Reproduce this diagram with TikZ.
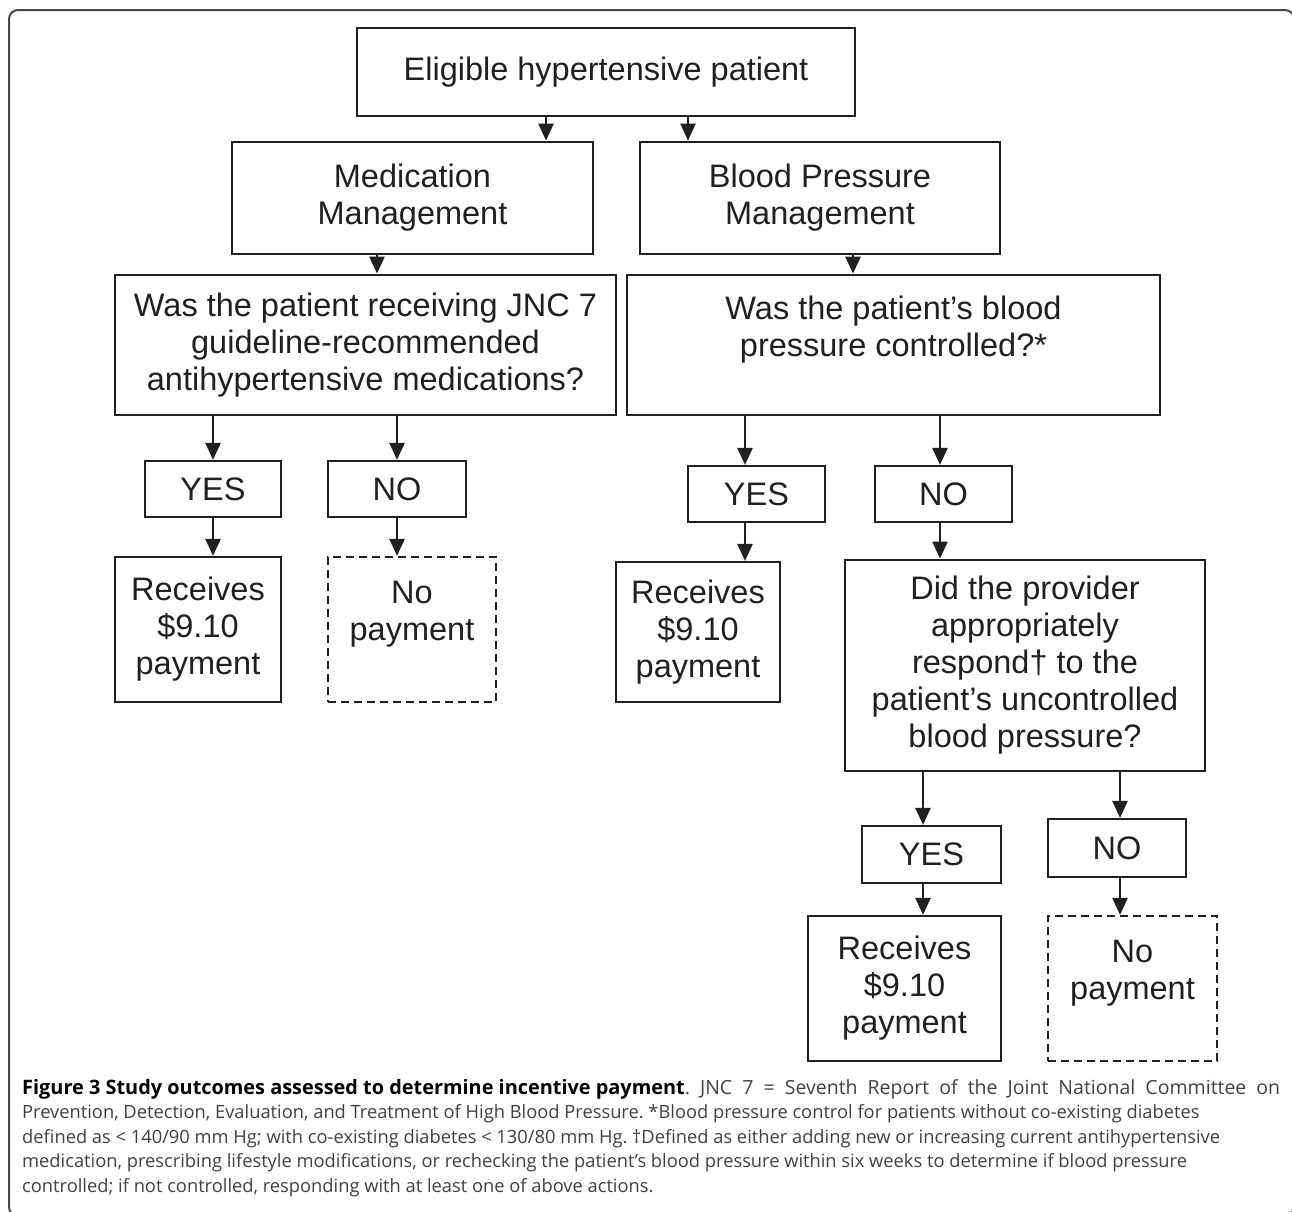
\documentclass[tikz,border=0pt]{standalone}
\usepackage{fontspec}
\setmainfont{Liberation Sans}
\newfontfamily\capfont{Open Sans}
\usetikzlibrary{arrows.meta}
\definecolor{ink}{RGB}{35,31,32}
\definecolor{capgray}{RGB}{64,64,64}
\definecolor{framegray}{RGB}{70,70,70}
\frenchspacing
\begin{document}
\begin{tikzpicture}[x=1pt, y=-1pt,
  box/.style={draw=ink, line width=2.8pt, inner sep=0pt, align=center, text=ink, font=\fontsize{32.5}{37}\selectfont},
  small/.style={box, line width=2.2pt},
  nopay/.style={small, dash pattern=on 8pt off 5pt},
  arr/.style={draw=ink, line width=2.4pt, -{Triangle[length=17pt,width=15pt]}}]
\useasboundingbox (0,0) rectangle (1292,1211);
\begin{scope}
\clip (0,0) rectangle (1292,1211);
\draw[framegray, line width=2pt, rounded corners=9pt] (9,10) rectangle (1294,1216);
\end{scope}
\node[box, minimum width=498, minimum height=88] (elig) at (606,72){Eligible hypertensive patient};
\node[box, minimum width=361, minimum height=112] (med) at (412.5,198){Medication\\Management};
\node[box, minimum width=360, minimum height=112] (bpm) at (820,198){Blood Pressure\\Management};
\draw[arr](elig.south -| 546,0) -- (med.north -| 546,0);
\draw[arr](elig.south -| 688,0) -- (bpm.north -| 688,0);
\node[box, minimum width=501, minimum height=140] (jnc) at (365.5,345){Was the patient receiving JNC 7\\guideline-recommended\\antihypertensive medications?};
\node[box, minimum width=533, minimum height=140] (ctrl) at (893.5,345){Was the patient’s blood\\pressure controlled?*\\\mbox{}};
\draw[arr](med.south -| 377,0) -- (jnc.north -| 377,0);
\draw[arr](bpm.south -| 853,0) -- (ctrl.north -| 853,0);
\node[small, minimum width=136, minimum height=56] (yesA) at (213,489){YES};
\node[small, minimum width=138, minimum height=56] (noA) at (397,489){NO};
\draw[arr](jnc.south -| yesA) -- (yesA.north);
\draw[arr](jnc.south -| noA) -- (noA.north);
\node[small, minimum width=166, minimum height=145] (payA) at (198,629.5){Receives\\\$9.10\\payment};
\node[nopay, minimum width=168, minimum height=145] (nopayA) at (412,629.5){No\\payment\\\mbox{}};
\draw[arr](yesA.south) -- (yesA.south |- payA.north);
\draw[arr](noA.south) -- (noA.south |- nopayA.north);
\node[small, minimum width=137, minimum height=56] (yesB) at (756.5,494){YES};
\node[small, minimum width=137, minimum height=56] (noB) at (943.5,494){NO};
\draw[arr](ctrl.south -| 745,0) -- (yesB.north -| 745,0);
\draw[arr](ctrl.south -| 940,0) -- (noB.north -| 940,0);
\node[small, minimum width=164, minimum height=140] (payB) at (698,632){Receives\\\$9.10\\payment};
\node[box, minimum width=360, minimum height=211] (resp) at (1025,665.5){Did the provider\\appropriately\\respond† to the\\patient’s uncontrolled\\blood pressure?};
\draw[arr](yesB.south -| 745,0) -- (payB.north -| 745,0);
\draw[arr](noB.south -| 940,0) -- (resp.north -| 940,0);
\node[small, minimum width=139, minimum height=57] (yesC) at (931.5,854.5){YES};
\node[small, minimum width=138, minimum height=58] (noC) at (1117,848){NO};
\draw[arr](resp.south -| 923,0) -- (yesC.north -| 923,0);
\draw[arr](resp.south -| 1120,0) -- (noC.north -| 1120,0);
\node[small, minimum width=193, minimum height=145] (payC) at (904.5,988.5){Receives\\\$9.10\\payment};
\node[nopay, minimum width=169, minimum height=145] (nopayC) at (1132.5,988.5){No\\payment\\\mbox{}};
\draw[arr](yesC.south -| 923,0) -- (payC.north -| 923,0);
\draw[arr](noC.south -| 1120,0) -- (nopayC.north -| 1120,0);
\node[anchor=base west, text width=1258pt, align=justify, inner sep=0pt, text=capgray, font=\capfont\fontsize{18.3}{24.5}\selectfont] (caption) at (22,1094){\mbox{\fontsize{19.9}{24.5}\selectfont\bfseries\color{black}Figure 3 Study outcomes assessed to determine incentive payment}{\fontsize{19.5}{24.5}\selectfont. JNC 7 = Seventh Report of the Joint National Committee on}\linebreak
Prevention, Detection, Evaluation, and Treatment of High Blood Pressure. *Blood pressure control for patients without co-existing diabetes\\
defined as < 140/90 mm Hg; with co-existing diabetes < 130/80 mm Hg. †Defined as either adding new or increasing current antihypertensive\\
medication, prescribing lifestyle modifications, or rechecking the patient’s blood pressure within six weeks to determine if blood pressure\\
controlled; if not controlled, responding with at least one of above actions.};
\end{tikzpicture}
\end{document}
